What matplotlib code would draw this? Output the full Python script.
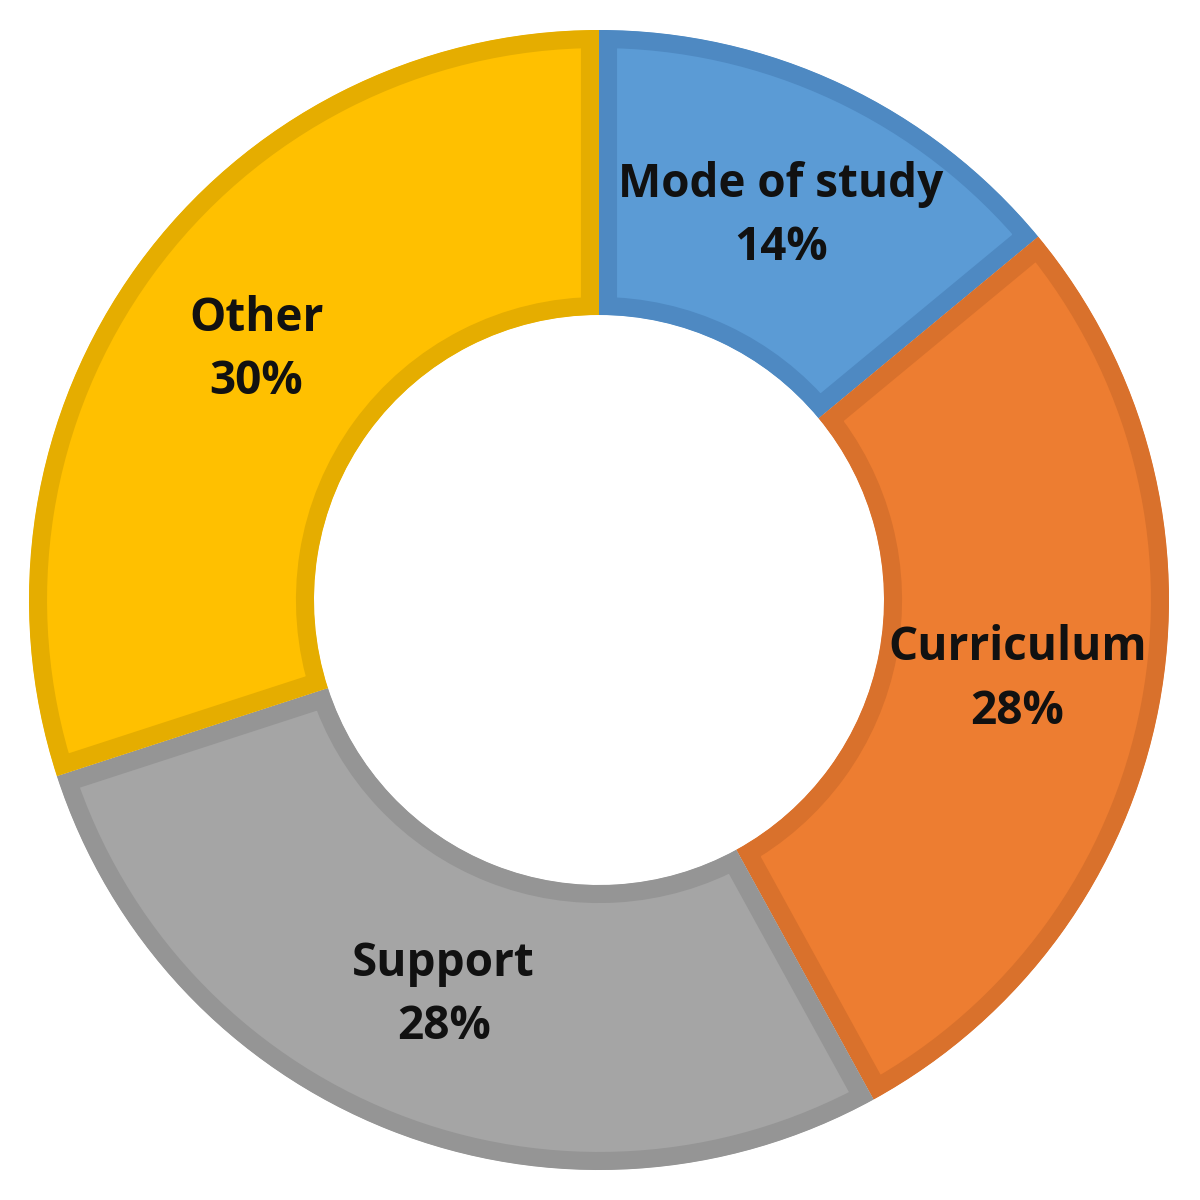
import numpy as np
import matplotlib
matplotlib.use("Agg")
import matplotlib.pyplot as plt

categories = ["Mode of study", "Curriculum", "Support", "Other"]
values = [14, 28, 28, 30]
fill_colors = ["#5B9BD5", "#ED7D31", "#A5A5A5", "#FFC000"]
edge_colors = ["#4E89C2", "#D9712C", "#959595", "#E5AD00"]

fig = plt.figure(figsize=(12, 12), dpi=100)
ax = fig.add_axes([0, 0, 1, 1])

wedges, _ = ax.pie(values, colors=fill_colors, startangle=90, counterclock=False,
                   radius=1.0, center=(-1 / 570, 0),
                   wedgeprops=dict(width=0.5, linewidth=26))
ax.set_xlim(-600 / 570, 600 / 570)
ax.set_ylim(-600 / 570, 600 / 570)
ax.set_aspect("equal")
ax.axis("off")

for w, ec in zip(wedges, edge_colors):
    w.set_edgecolor(ec)
    w.set_clip_on(True)
    w.set_clip_path(w)

for w, name, v in zip(wedges, categories, values):
    mid = np.deg2rad((w.theta1 + w.theta2) / 2)
    r = 0.745
    ax.text(r * np.cos(mid), r * np.sin(mid), f"{name}\n{v}%", ha="center", va="center",
            fontsize=33, fontweight="bold", family=["Open Sans", "DejaVu Sans"],
            linespacing=1.45, color="#111111")

fig.savefig("out.png", dpi=100, facecolor="white")
